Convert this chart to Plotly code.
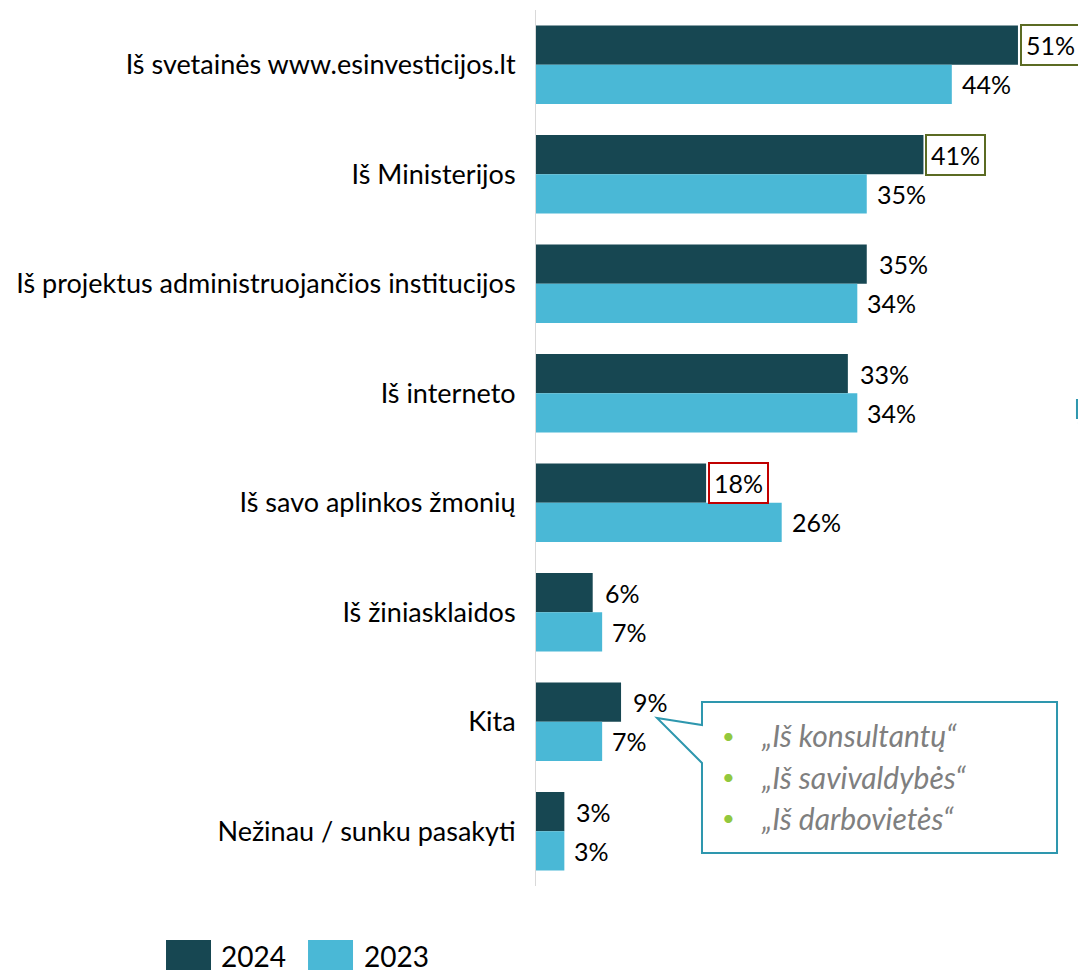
import plotly.graph_objects as go

# survey answers (top to bottom)
categories = ["Iš svetainės www.esinvesticijos.lt", "Iš Ministerijos",
              "Iš projektus administruojančios institucijos", "Iš interneto",
              "Iš savo aplinkos žmonių", "Iš žiniasklaidos", "Kita",
              "Nežinau / sunku pasakyti"]
vals_2024 = [51, 41, 35, 33, 18, 6, 9, 3]
vals_2023 = [44, 35, 34, 34, 26, 7, 7, 3]
# highlighted 2024 labels -> border colour
highlight_2024 = {0: "#5b6b23", 1: "#5b6b23", 4: "#c00000"}
callout_lines = ["„Iš konsultantų“", "„Iš savivaldybės“", "„Iš darbovietės“"]

DARK = "#174752"
LIGHT = "#4ab8d6"
FONT = "Lato"

fig = go.Figure()
fig.add_trace(go.Bar(y=categories, x=vals_2024, orientation="h", name="2024",
                     marker_color=DARK, marker_line_width=0))
fig.add_trace(go.Bar(y=categories, x=vals_2023, orientation="h", name="2023",
                     marker_color=LIGHT, marker_line_width=0))

# value labels
for i, c in enumerate(categories):
    col = highlight_2024.get(i)
    fig.add_annotation(x=vals_2024[i], y=c, text=f"{vals_2024[i]}%", showarrow=False,
                       xanchor="left", yanchor="middle", yshift=19.5, xshift=2 if col else 8,
                       font=dict(family=FONT, size=25, color="#000"),
                       bordercolor=col if col else "rgba(0,0,0,0)", borderwidth=2 if col else 0,
                       borderpad=4, bgcolor="white" if col else None)
    fig.add_annotation(x=vals_2023[i], y=c, text=f"{vals_2023[i]}%", showarrow=False,
                       xanchor="left", yanchor="middle", yshift=-19.5, xshift=8,
                       font=dict(family=FONT, size=25, color="#000"))

# callout bubble next to "Kita"
fig.add_shape(type="path", xref="paper", yref="paper",
              path="M 0.22 0.1918 L 0.3018 0.1838 L 0.3018 0.21 L 0.9473 0.21 "
                   "L 0.9473 0.0377 L 0.3018 0.0377 L 0.3018 0.1404 Z",
              line=dict(color="#2e97ae", width=2), fillcolor="white", layer="above")
for k, t in enumerate(callout_lines):
    yp = 0.172 - k * 0.047
    fig.add_annotation(xref="paper", yref="paper", x=0.3509, y=yp, text="•",
                       showarrow=False, xanchor="center", yanchor="middle",
                       font=dict(family=FONT, size=22, color="#92c83e"))
    fig.add_annotation(xref="paper", yref="paper", x=0.405, y=yp, text=f"<i>{t}</i>",
                       showarrow=False, xanchor="left", yanchor="middle",
                       font=dict(family=FONT, size=30, color="#7f7f7f"))

# partial icon cut off at the right edge
fig.add_shape(type="path", xref="paper", yref="paper",
              path="M 1.0 0.5662 L 0.9964 0.5639 L 0.9891 0.5594 L 0.9964 0.5548 "
                   "L 0.9836 0.5548 L 0.9836 0.5342 L 0.9945 0.5342 L 0.9873 0.5285 "
                   "L 0.9945 0.5228 L 1.0 0.5205",
              line=dict(color="#2e97ae", width=2))

# legend drawn by hand (large swatches)
for x0, x1, tx, col, lab in [(-0.6727, -0.5909, -0.5755, DARK, "2024"),
                             (-0.4145, -0.3327, -0.3155, LIGHT, "2023")]:
    fig.add_shape(type="rect", xref="paper", yref="paper", x0=x0, x1=x1,
                  y0=-0.0959, y1=-0.0616, fillcolor=col, line_width=0)
    fig.add_annotation(xref="paper", yref="paper", x=tx, y=-0.08, text=lab,
                       showarrow=False, xanchor="left", yanchor="middle",
                       font=dict(family=FONT, size=28, color="#000"))

# page body has an 8px margin, so the figure is a bit smaller than the window
fig.update_layout(
    width=1078, height=962,
    margin=dict(l=528, r=0, t=2, b=84, autoexpand=False),
    barmode="group", bargap=0.285, bargroupgap=0,
    showlegend=False,
    plot_bgcolor="white", paper_bgcolor="white",
    font=dict(family=FONT, size=27, color="#000"),
)
fig.update_xaxes(range=[0, 58.2], visible=False, automargin=False)
fig.update_yaxes(autorange="reversed", showline=True, linecolor="#d9d9d9", linewidth=1,
                 ticks="", ticklabelstandoff=14, showgrid=False, automargin=False,
                 tickfont=dict(family=FONT, size=27, color="#000"))

fig.write_html("out.html")
